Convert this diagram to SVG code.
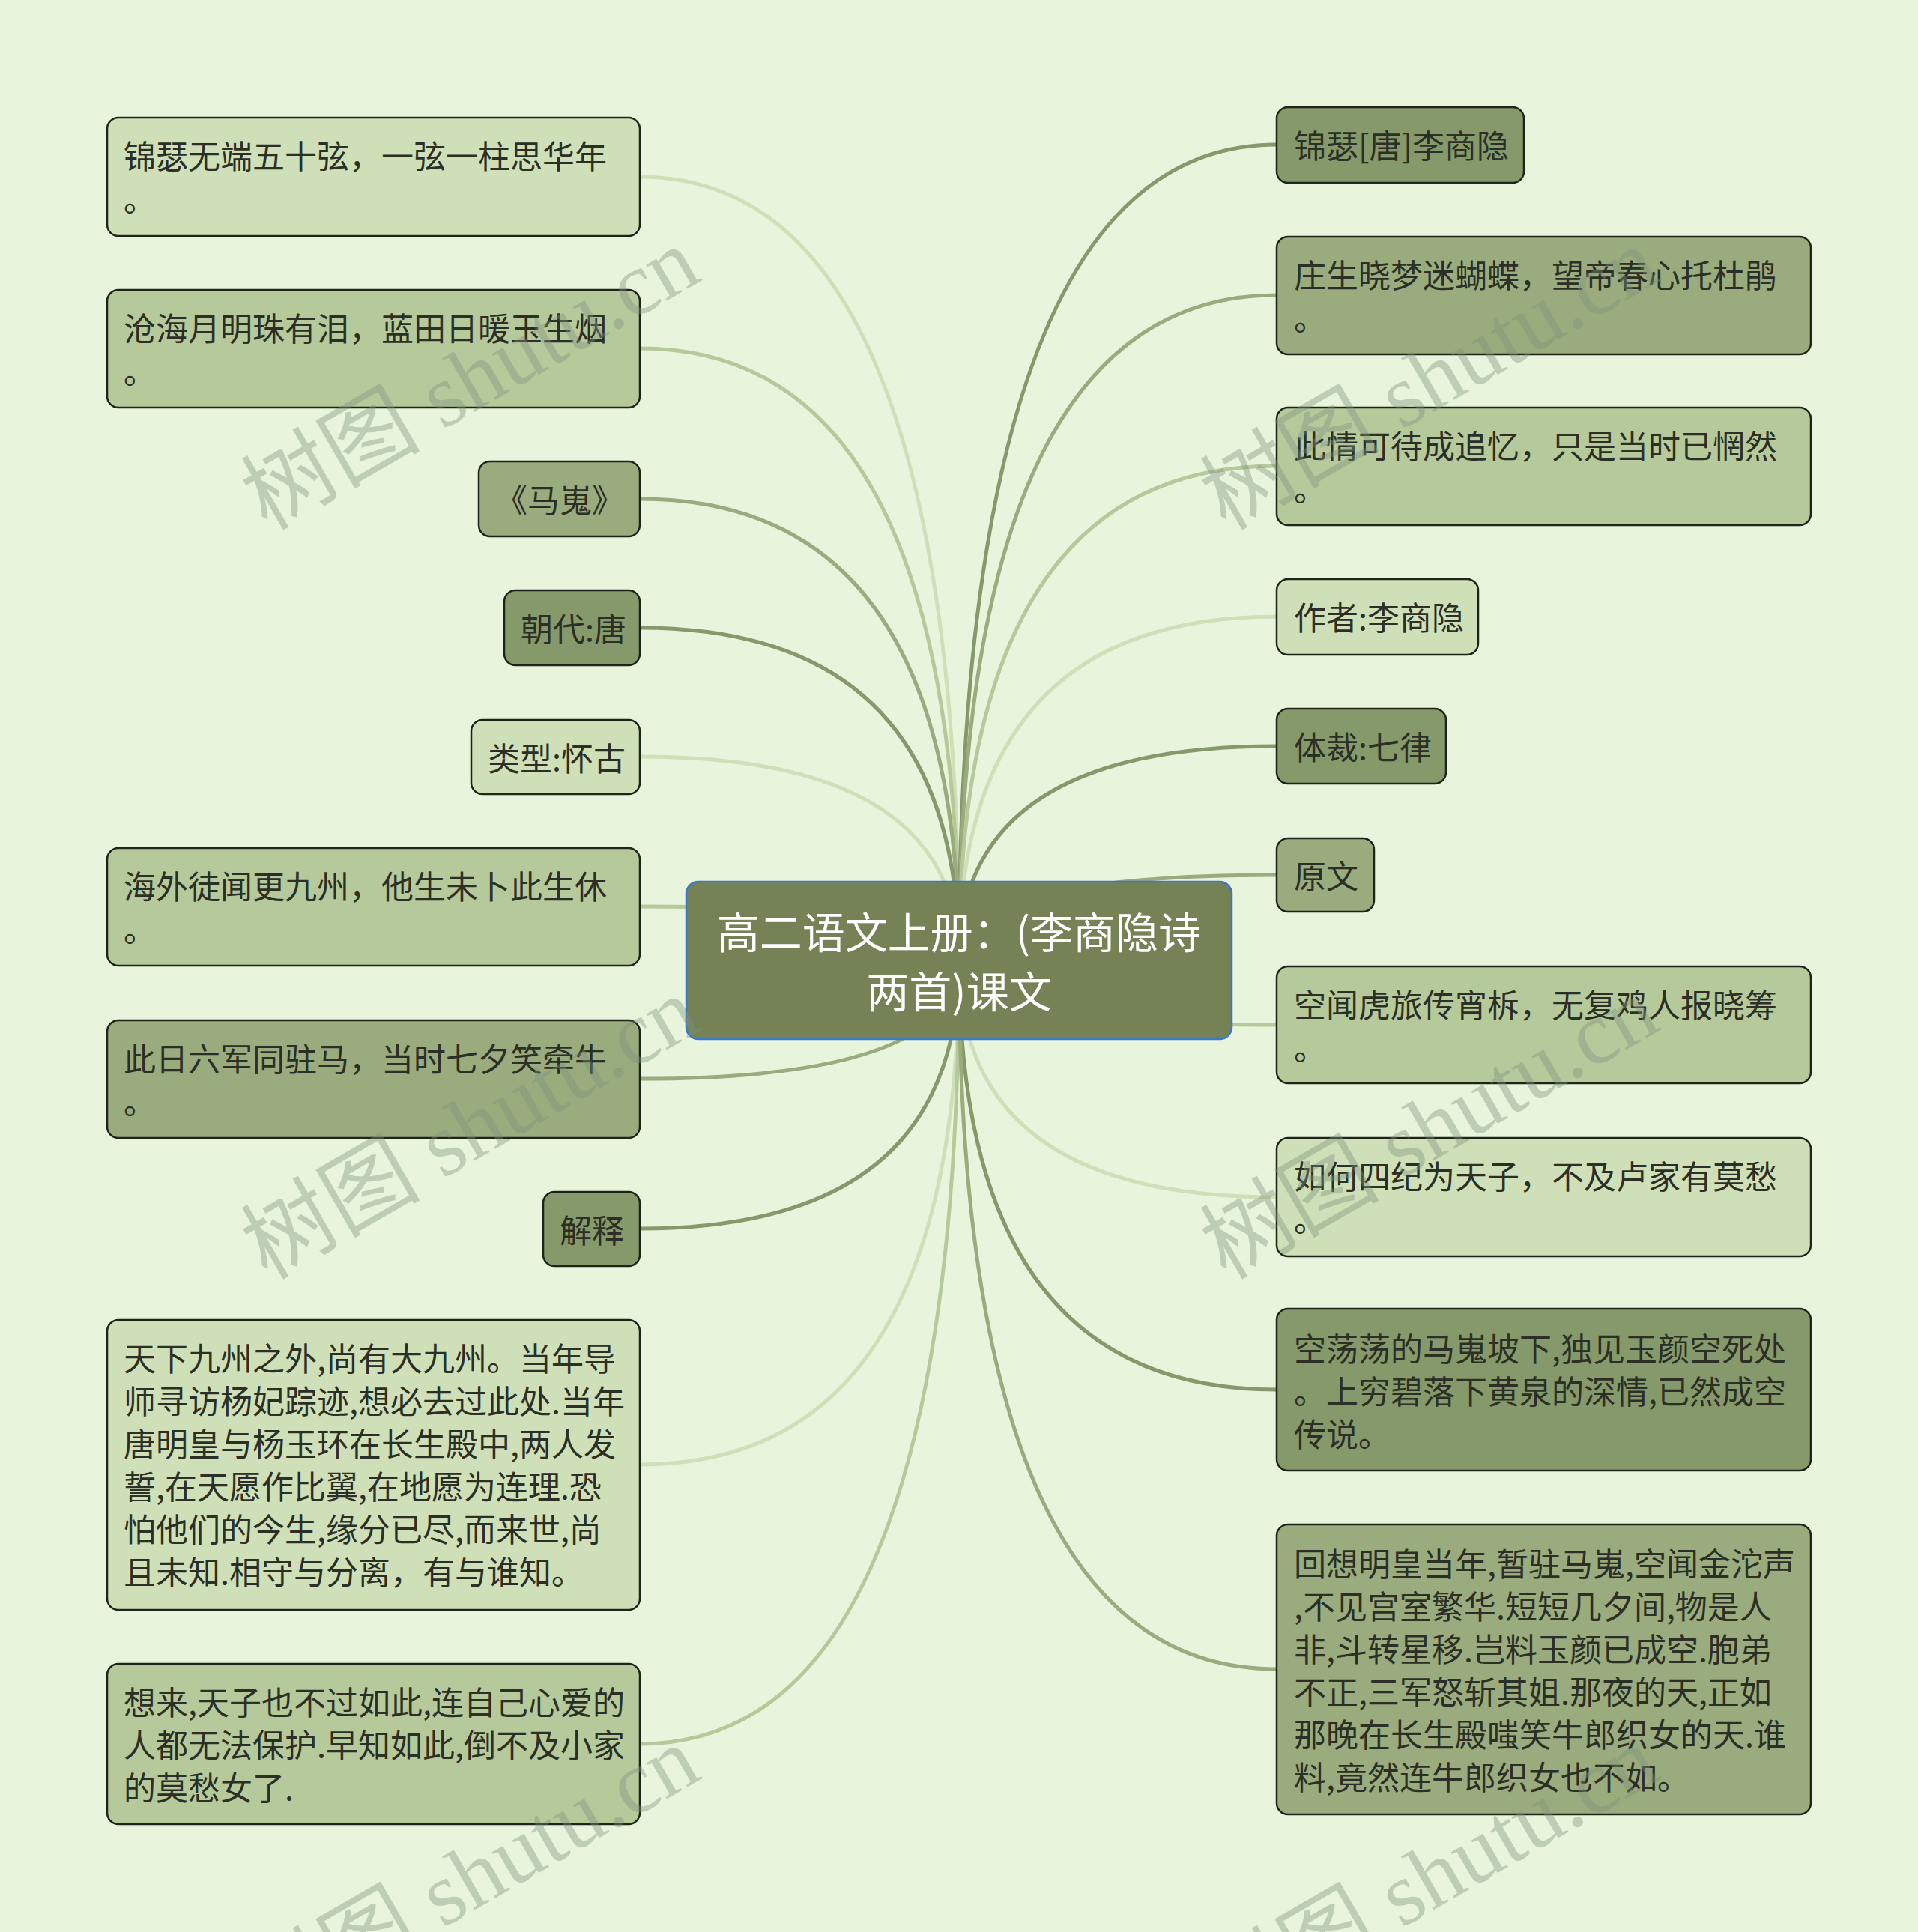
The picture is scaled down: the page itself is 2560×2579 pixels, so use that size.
<svg xmlns="http://www.w3.org/2000/svg" width="2560" height="2579" viewBox="0 0 2560 2579">
<style>
.c{fill:none;stroke-width:5;stroke-linecap:round}
.c1{stroke:#cfe0b9}.c2{stroke:#b6c99b}.c3{stroke:#9aab7d}.c4{stroke:#86996a}
.b{stroke:#1e2418;stroke-width:2.5}
.f1{fill:#cfe0b9}.f2{fill:#b6c99b}.f3{fill:#9aab7d}.f4{fill:#86996a}
.t{font-family:"Noto Sans CJK SC","Noto Sans",sans-serif;font-size:43px;fill:#2b2f26}
.ct{font-family:"Noto Sans CJK SC","Noto Sans",sans-serif;font-size:57px;fill:#ffffff;text-anchor:middle}
.wm{font-family:"Liberation Serif","Noto Sans CJK SC",serif;font-size:120px;fill:#7f917d;fill-opacity:0.4;text-anchor:middle}
</style>
<rect width="2560" height="2579" fill="#e8f5dc"/>
<g id="connectors">
<path class="c c1" d="M1280 1282 Q1280 236 854 236"/>
<path class="c c2" d="M1280 1282 Q1280 465 854 465"/>
<path class="c c3" d="M1280 1282 Q1280 666 854 666"/>
<path class="c c4" d="M1280 1282 Q1280 838 854 838"/>
<path class="c c1" d="M1280 1282 Q1280 1010 854 1010"/>
<path class="c c2" d="M1280 1282 Q1280 1210 854 1210"/>
<path class="c c3" d="M1280 1282 Q1280 1440 854 1440"/>
<path class="c c4" d="M1280 1282 Q1280 1640 854 1640"/>
<path class="c c1" d="M1280 1282 Q1280 1955 854 1955"/>
<path class="c c2" d="M1280 1282 Q1280 2328 854 2328"/>
<path class="c c4" d="M1280 1282 Q1280 193 1704 193"/>
<path class="c c3" d="M1280 1282 Q1280 394 1704 394"/>
<path class="c c2" d="M1280 1282 Q1280 622 1704 622"/>
<path class="c c1" d="M1280 1282 Q1280 823 1704 823"/>
<path class="c c4" d="M1280 1282 Q1280 996 1704 996"/>
<path class="c c3" d="M1280 1282 Q1280 1168 1704 1168"/>
<path class="c c2" d="M1280 1282 Q1280 1368 1704 1368"/>
<path class="c c1" d="M1280 1282 Q1280 1598 1704 1598"/>
<path class="c c4" d="M1280 1282 Q1280 1855 1704 1855"/>
<path class="c c3" d="M1280 1282 Q1280 2228 1704 2228"/>
</g>
<g id="L1"><rect class="b f1" x="143" y="157" width="711" height="158" rx="15"/><text class="t" x="165" y="225">锦瑟无端五十弦，一弦一柱思华年</text><text class="t" x="165" y="282">。</text></g>
<g id="L2"><rect class="b f2" x="143" y="387" width="711" height="157" rx="15"/><text class="t" x="165" y="455">沧海月明珠有泪，蓝田日暖玉生烟</text><text class="t" x="165" y="512">。</text></g>
<g id="L3"><rect class="b f3" x="639" y="616" width="215" height="100" rx="15"/><text class="t" x="661" y="684">《马嵬》</text></g>
<g id="L4"><rect class="b f4" x="673" y="788" width="181" height="100" rx="15"/><text class="t" x="695" y="856">朝代:唐</text></g>
<g id="L5"><rect class="b f1" x="629" y="961" width="225" height="99" rx="15"/><text class="t" x="651" y="1029">类型:怀古</text></g>
<g id="L6"><rect class="b f2" x="143" y="1132" width="711" height="157" rx="15"/><text class="t" x="165" y="1200">海外徒闻更九州，他生未卜此生休</text><text class="t" x="165" y="1257">。</text></g>
<g id="L7"><rect class="b f3" x="143" y="1362" width="711" height="157" rx="15"/><text class="t" x="165" y="1430">此日六军同驻马，当时七夕笑牵牛</text><text class="t" x="165" y="1487">。</text></g>
<g id="L8"><rect class="b f4" x="725" y="1591" width="129" height="99" rx="15"/><text class="t" x="747" y="1659">解释</text></g>
<g id="L9"><rect class="b f1" x="143" y="1762" width="711" height="387" rx="15"/>
<text class="t" x="165" y="1830">天下九州之外,尚有大九州。当年导</text>
<text class="t" x="165" y="1887">师寻访杨妃踪迹,想必去过此处.当年</text>
<text class="t" x="165" y="1944">唐明皇与杨玉环在长生殿中,两人发</text>
<text class="t" x="165" y="2001">誓,在天愿作比翼,在地愿为连理.恐</text>
<text class="t" x="165" y="2058">怕他们的今生,缘分已尽,而来世,尚</text>
<text class="t" x="165" y="2115">且未知.相守与分离，有与谁知。</text></g>
<g id="L10"><rect class="b f2" x="143" y="2221" width="711" height="214" rx="15"/>
<text class="t" x="165" y="2289">想来,天子也不过如此,连自己心爱的</text>
<text class="t" x="165" y="2346">人都无法保护.早知如此,倒不及小家</text>
<text class="t" x="165" y="2403">的莫愁女了.</text></g>
<g id="R1"><rect class="b f4" x="1704" y="143" width="330" height="101" rx="15"/><text class="t" x="1727" y="211">锦瑟[唐]李商隐</text></g>
<g id="R2"><rect class="b f3" x="1704" y="316" width="713" height="157" rx="15"/><text class="t" x="1727" y="384">庄生晓梦迷蝴蝶，望帝春心托杜鹃</text><text class="t" x="1727" y="441">。</text></g>
<g id="R3"><rect class="b f2" x="1704" y="544" width="713" height="157" rx="15"/><text class="t" x="1727" y="612">此情可待成追忆，只是当时已惘然</text><text class="t" x="1727" y="669">。</text></g>
<g id="R4"><rect class="b f1" x="1704" y="773" width="269" height="101" rx="15"/><text class="t" x="1727" y="841">作者:李商隐</text></g>
<g id="R5"><rect class="b f4" x="1704" y="946" width="226" height="100" rx="15"/><text class="t" x="1727" y="1014">体裁:七律</text></g>
<g id="R6"><rect class="b f3" x="1704" y="1119" width="130" height="98" rx="15"/><text class="t" x="1727" y="1186">原文</text></g>
<g id="R7"><rect class="b f2" x="1704" y="1290" width="713" height="156" rx="15"/><text class="t" x="1727" y="1358">空闻虎旅传宵柝，无复鸡人报晓筹</text><text class="t" x="1727" y="1415">。</text></g>
<g id="R8"><rect class="b f1" x="1704" y="1519" width="713" height="158" rx="15"/><text class="t" x="1727" y="1587">如何四纪为天子，不及卢家有莫愁</text><text class="t" x="1727" y="1644">。</text></g>
<g id="R9"><rect class="b f4" x="1704" y="1747" width="713" height="216" rx="15"/>
<text class="t" x="1727" y="1817">空荡荡的马嵬坡下,独见玉颜空死处</text>
<text class="t" x="1727" y="1874">。上穷碧落下黄泉的深情,已然成空</text>
<text class="t" x="1727" y="1931">传说。</text></g>
<g id="R10"><rect class="b f3" x="1704" y="2035" width="713" height="387" rx="15"/>
<text class="t" x="1727" y="2104">回想明皇当年,暂驻马嵬,空闻金沱声</text>
<text class="t" x="1727" y="2161">,不见宫室繁华.短短几夕间,物是人</text>
<text class="t" x="1727" y="2218">非,斗转星移.岂料玉颜已成空.胞弟</text>
<text class="t" x="1727" y="2275">不正,三军怒斩其姐.那夜的天,正如</text>
<text class="t" x="1727" y="2332">那晚在长生殿嗤笑牛郎织女的天.谁</text>
<text class="t" x="1727" y="2389">料,竟然连牛郎织女也不如。</text></g>
<g id="center"><rect x="916" y="1177" width="728" height="210" rx="16" fill="#748256" stroke="#3b78cc" stroke-width="2.5"/>
<text class="ct" x="1280" y="1266">高二语文上册：(李商隐诗</text>
<text class="ct" x="1280" y="1345">两首)课文</text></g>
<g id="watermark">
<text class="wm" x="648" y="541" transform="rotate(-30 648 541)">树图 shutu.cn</text>
<text class="wm" x="1928" y="541" transform="rotate(-30 1928 541)">树图 shutu.cn</text>
<text class="wm" x="648" y="1541" transform="rotate(-30 648 1541)">树图 shutu.cn</text>
<text class="wm" x="1928" y="1541" transform="rotate(-30 1928 1541)">树图 shutu.cn</text>
<text class="wm" x="648" y="2541" transform="rotate(-30 648 2541)">树图 shutu.cn</text>
<text class="wm" x="1928" y="2541" transform="rotate(-30 1928 2541)">树图 shutu.cn</text>
</g>
</svg>
